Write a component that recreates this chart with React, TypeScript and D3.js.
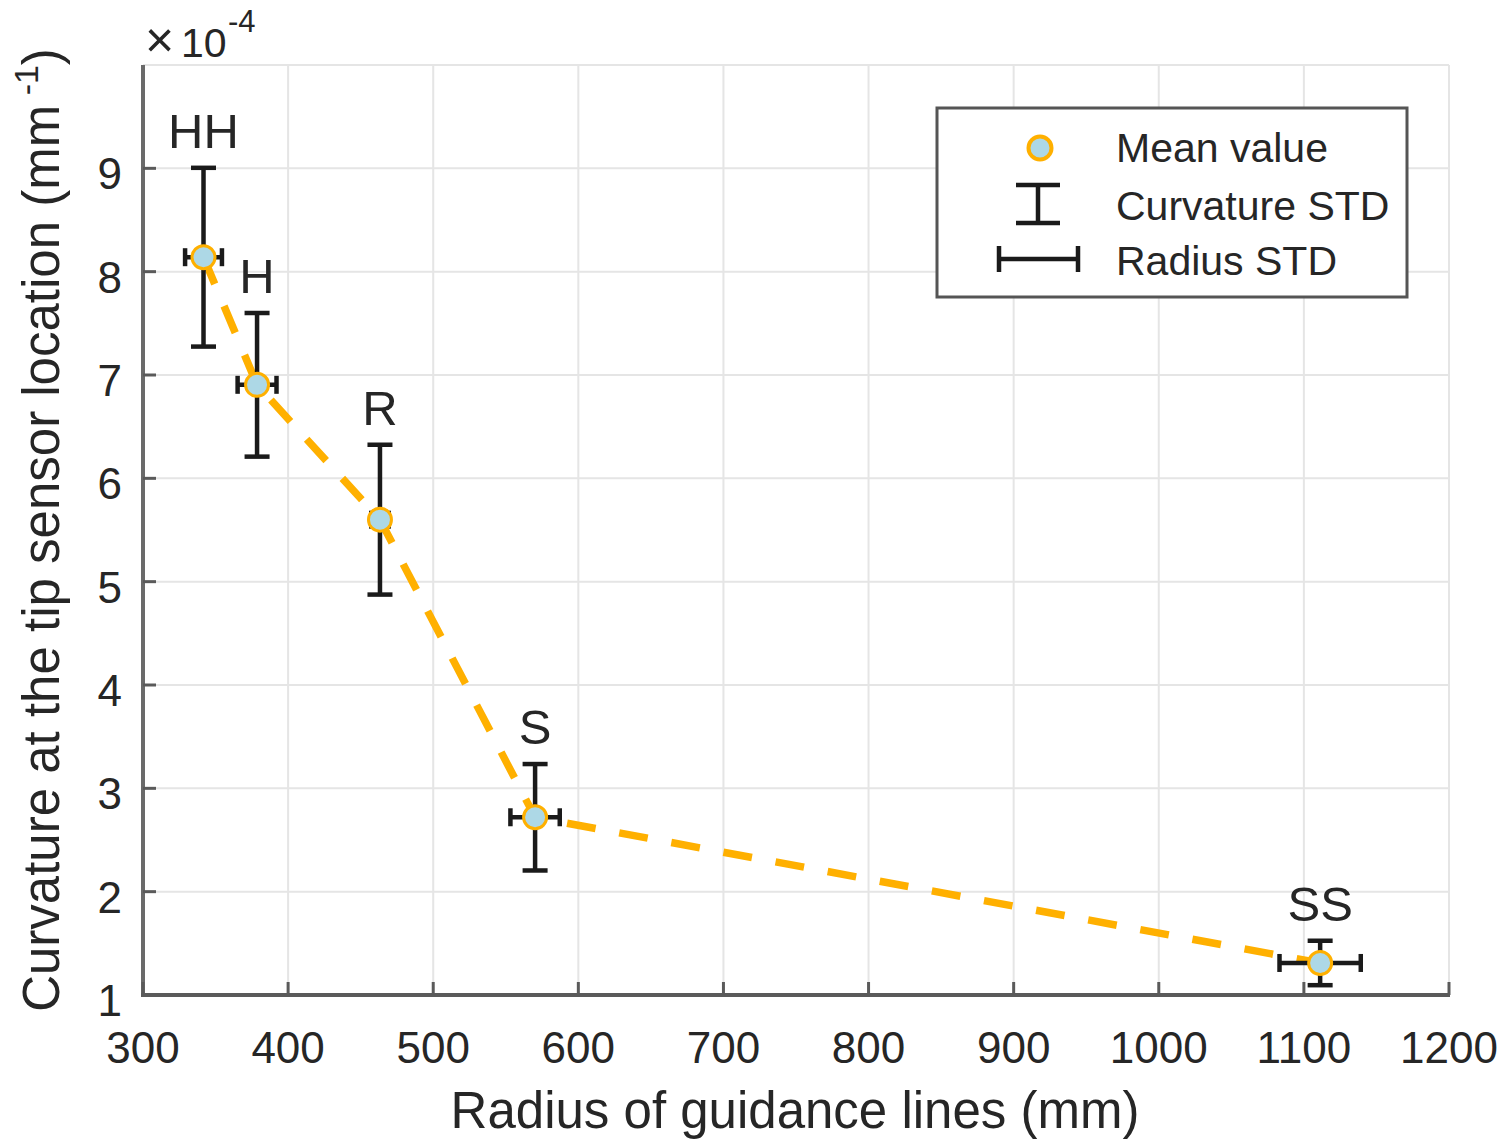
import React from "react";
import * as d3 from "d3";

const labels = ["HH", "H", "R", "S", "SS"];
const radiusMean = [341.7, 378.6, 463.3, 570.2, 1111.2];
const radiusStd = [12.7, 13.4, 6, 17, 28];
const curvMean = [8.14, 6.905, 5.6, 2.72, 1.31];
const curvStd = [0.865, 0.695, 0.725, 0.515, 0.215];
const xTicks = [300, 400, 500, 600, 700, 800, 900, 1000, 1100, 1200];
const yTicks = [1, 2, 3, 4, 5, 6, 7, 8, 9];
const yGrid = [1, 2, 3, 4, 5, 6, 7, 8, 9, 10];

const W = 1500;
const H = 1142;
const FONT = "'Liberation Sans', Arial, Helvetica, sans-serif";
const TXT = "#262626";
const ORANGE = "#FFB000";
const BLUE = "#ADD8E6";

export default function App() {
  const x = d3.scaleLinear().domain([300, 1200]).range([143, 1449]);
  const y = d3.scaleLinear().domain([1, 10]).range([995, 65]);

  const line = d3
    .line<number>()
    .x((_, i) => x(radiusMean[i]))
    .y((d) => y(d));

  const capV = 12.5;
  const capH = 9;

  return (
    <svg
      width={W}
      height={H}
      style={{ position: "absolute", left: 0, top: 0, background: "#fff" }}
      fontFamily={FONT}
    >
      <rect x={0} y={0} width={W} height={H} fill="#fff" />
      {/* grid */}
      {xTicks.map((t) => (
        <line key={"gx" + t} x1={x(t)} x2={x(t)} y1={y(10)} y2={y(1)} stroke="#e5e5e5" strokeWidth={2} />
      ))}
      {yGrid.map((t) => (
        <line key={"gy" + t} x1={x(300)} x2={x(1200)} y1={y(t)} y2={y(t)} stroke="#e5e5e5" strokeWidth={2} />
      ))}
      {/* axes */}
      <line x1={x(300)} x2={x(300)} y1={y(10)} y2={y(1) + 2} stroke="#6a6a6a" strokeWidth={4} />
      <line x1={x(300) - 2} x2={x(1200) + 1} y1={y(1)} y2={y(1)} stroke="#5a5a5a" strokeWidth={4} />
      {xTicks.map((t) => (
        <g key={"xt" + t}>
          <line x1={x(t)} x2={x(t)} y1={y(1)} y2={y(1) - 13} stroke="#5a5a5a" strokeWidth={3} />
          <text x={x(t)} y={1063} textAnchor="middle" fontSize={44} fill={TXT}>
            {t}
          </text>
        </g>
      ))}
      {yTicks.map((t) => (
        <g key={"yt" + t}>
          <line x1={x(300)} x2={x(300) + 13} y1={y(t)} y2={y(t)} stroke="#5a5a5a" strokeWidth={3} />
          <text x={122} y={y(t) + 21} textAnchor="end" fontSize={44} fill={TXT}>
            {t}
          </text>
        </g>
      ))}
      {/* exponent */}
      <text x={145} y={57} fontSize={50} fill={TXT}>
        ×
      </text>
      <text x={181} y={57} fontSize={41} fill={TXT}>
        10
      </text>
      <text x={228} y={32} fontSize={31} fill={TXT}>
        -4
      </text>
      {/* axis titles */}
      <text x={795} y={1128} textAnchor="middle" fontSize={51} fill={TXT}>
        Radius of guidance lines (mm)
      </text>
      <text transform="translate(59,530) rotate(-90)" textAnchor="middle" fontSize={51} fill={TXT}>
        Curvature at the tip sensor location (mm
        <tspan fontSize={34} dy={-21}>{" -1"}</tspan>
        <tspan dy={21}>)</tspan>
      </text>
      {/* dashed line */}
      <path
        d={line(curvMean) || ""}
        fill="none"
        stroke={ORANGE}
        strokeWidth={7.5}
        strokeDasharray="29 24"
      />
      {/* error bars */}
      {curvMean.map((m, i) => {
        const cx = x(radiusMean[i]);
        const top = y(m + curvStd[i]);
        const bot = y(m - curvStd[i]);
        const xl = x(radiusMean[i] - radiusStd[i]);
        const xr = x(radiusMean[i] + radiusStd[i]);
        const cy = y(m);
        return (
          <g key={"eb" + i} stroke="#1a1a1a" strokeWidth={4.5}>
            <line x1={cx} x2={cx} y1={top} y2={bot} />
            <line x1={cx - capV} x2={cx + capV} y1={top} y2={top} />
            <line x1={cx - capV} x2={cx + capV} y1={bot} y2={bot} />
            <line x1={xl} x2={xr} y1={cy} y2={cy} />
            <line x1={xl} x2={xl} y1={cy - capH} y2={cy + capH} />
            <line x1={xr} x2={xr} y1={cy - capH} y2={cy + capH} />
          </g>
        );
      })}
      {/* markers */}
      {curvMean.map((m, i) => (
        <circle key={"mk" + i} cx={x(radiusMean[i])} cy={y(m)} r={11.5} fill={BLUE} stroke={ORANGE} strokeWidth={3} />
      ))}
      {/* point labels */}
      {curvMean.map((m, i) => (
        <text
          key={"lb" + i}
          x={x(radiusMean[i])}
          y={y(m + curvStd[i]) - 20}
          textAnchor="middle"
          fontSize={49}
          fill={TXT}
        >
          {labels[i]}
        </text>
      ))}
      {/* legend */}
      <g>
        <rect x={937} y={108} width={470} height={189} fill="#fff" stroke="#555" strokeWidth={3} />
        <circle cx={1040} cy={148} r={11.5} fill={BLUE} stroke={ORANGE} strokeWidth={4} />
        <g stroke="#1a1a1a" strokeWidth={4.5}>
          <line x1={1038} x2={1038} y1={185} y2={223} />
          <line x1={1016} x2={1060} y1={185} y2={185} />
          <line x1={1016} x2={1060} y1={223} y2={223} />
          <line x1={999} x2={1078} y1={259} y2={259} />
          <line x1={999} x2={999} y1={246} y2={272} />
          <line x1={1078} x2={1078} y1={246} y2={272} />
        </g>
        <text x={1116} y={162} fontSize={41} fill={TXT}>
          Mean value
        </text>
        <text x={1116} y={220} fontSize={41} fill={TXT}>
          Curvature STD
        </text>
        <text x={1116} y={275} fontSize={41} fill={TXT}>
          Radius STD
        </text>
      </g>
    </svg>
  );
}
